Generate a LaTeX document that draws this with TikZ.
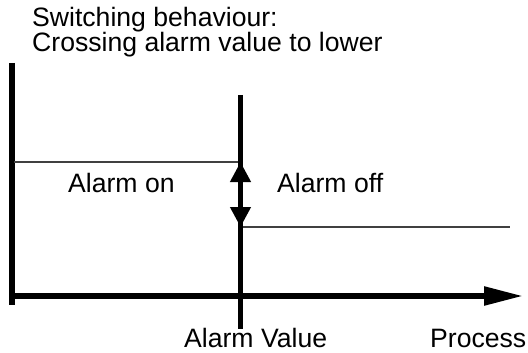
\documentclass[tikz,border=0pt]{standalone}
\usepackage{fontspec}
\setmainfont{Liberation Sans}
\usetikzlibrary{arrows.meta}
\tikzset{
	label text/.style={anchor=base west, inner sep=0pt, font=\fontsize{26.6}{26.6}\selectfont},
	level line/.style={line width=1.3pt, color=black!75},
}

\begin{document}
\begin{tikzpicture}[x=1pt, y=-1pt]
			%%%%% START %%%%%
			\useasboundingbox (0, 0) rectangle (528, 353);
			
			\coordinate (axis top) at (12, 63);
			\coordinate (axis bottom) at (12, 305);
			\coordinate (origin) at (9.25, 296);
			\coordinate (axis end) at (523, 296);
			\coordinate (alarm top) at (240.5, 95);
			\coordinate (alarm bottom) at (240.5, 329);
			\coordinate (on left) at (14, 162);
			\coordinate (on right) at (240.5, 162);
			\coordinate (off left) at (240.5, 227);
			\coordinate (off right) at (510, 227);
			
			\node[label text] (title one) at (32, 27) {Switching behaviour:};
			\node[label text] (title two) at (32, 52) {Crossing alarm value to lower};
			
			\draw[line width=5.5pt] (axis top) -- (axis bottom);
			\draw[line width=5.5pt, -{Triangle[length=39pt, width=18pt]}] (origin) -- (axis end);
			
			\draw[level line] (on left) -- (on right);
			\draw[level line] (off left) -- (off right);
			
			\draw[line width=4.3pt] (alarm top) -- (alarm bottom);
			\draw[line width=4.3pt, {Triangle[length=20pt, width=20pt]}-{Triangle[length=20pt, width=20pt]}] (on right) -- (off left);
			
			\node[label text] (alarm on) at (68, 192) {Alarm on};
			\node[label text] (alarm off) at (277, 192) {Alarm off};
			\node[label text] (alarm value) at (184, 347) {Alarm Value};
			\node[label text] (process) at (430, 347) {Process};
			
			%%%%% END %%%%%
		\end{tikzpicture}
\end{document}
